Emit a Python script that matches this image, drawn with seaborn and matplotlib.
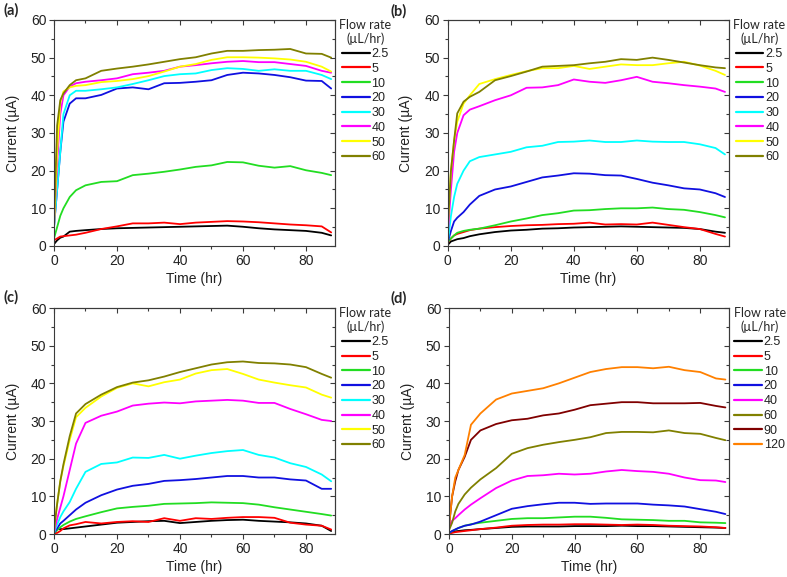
import matplotlib
matplotlib.use("Agg")
import matplotlib.pyplot as plt
import numpy as np
import pandas as pd
import seaborn as sns
from matplotlib.ticker import MultipleLocator

sns.set_style("ticks")
plt.rcParams['font.family'] = ['Liberation Sans', 'DejaVu Sans']

# time grid (hr) shared by every trace
time_hr = [0, 1, 2, 3, 5, 7, 10, 15, 20, 25, 30, 35, 40, 45, 50, 55, 60, 65, 70, 75, 80, 85, 88]

# (a)
a_flows = ["2.5", "5", "10", "20", "30", "40", "50", "60"]
a_2p5 = [0.5, 1.5, 2.2, 2.5, 3.8, 4.0, 4.2, 4.5, 4.7, 4.8, 4.9, 5.0, 5.1, 5.2, 5.3, 5.4, 5.1, 4.7, 4.4, 4.2, 4.0, 3.5, 2.8]
a_5 = [1.5, 2.0, 2.5, 2.6, 2.8, 3.0, 3.5, 4.5, 5.2, 6.0, 6.0, 6.2, 5.8, 6.2, 6.4, 6.6, 6.5, 6.3, 6.0, 5.7, 5.5, 5.2, 3.6]
a_10 = [2, 5, 8, 10, 13, 14.8, 16.1, 17, 17.2, 18.8, 19.2, 19.7, 20.3, 21, 21.4, 22.3, 22.2, 21.3, 20.8, 21.2, 20.1, 19.4, 18.8]
a_20 = [5, 15, 25, 33, 37.8, 39.2, 39.2, 40.1, 41.8, 42.1, 41.6, 43.2, 43.3, 43.6, 44, 45.4, 46, 45.8, 45.4, 44.8, 43.9, 43.8, 41.8]
a_30 = [5, 15, 25, 35, 40, 41.2, 41.2, 41.6, 42.1, 43, 44, 45.1, 45.6, 45.8, 46.7, 47.2, 47, 46.5, 46.9, 46.5, 46.5, 45.4, 44.3]
a_40 = [5, 22, 35, 40, 42.3, 43.2, 43.6, 44, 44.5, 45.6, 46, 46.5, 47.6, 48, 48.5, 48.9, 49.1, 48.8, 48.8, 48.3, 47.8, 46.5, 46]
a_50 = [5, 25, 38, 41, 42.1, 42.5, 42.7, 43.5, 43.8, 44.3, 45.1, 46.3, 47.6, 48.3, 49.4, 50.1, 50.1, 50, 49.8, 49.5, 48.9, 47.6, 46.3]
a_60 = [6, 32, 38.7, 40.5, 42.7, 44, 44.5, 46.5, 47.1, 47.6, 48.2, 48.9, 49.6, 50.1, 51.1, 51.8, 51.8, 52, 52.1, 52.3, 51.1, 51, 50]

# (b)
b_flows = ["2.5", "5", "10", "20", "30", "40", "50", "60"]
b_2p5 = [0.3, 1.2, 1.5, 1.8, 2.1, 2.6, 3.1, 3.7, 4.1, 4.3, 4.6, 4.7, 4.9, 5.0, 5.1, 5.2, 5.1, 5.0, 4.9, 4.8, 4.5, 3.8, 3.5]
b_5 = [0.8, 2.0, 2.8, 3.2, 3.7, 4.2, 4.6, 5.0, 5.3, 5.5, 5.6, 5.8, 5.9, 6.2, 5.7, 5.8, 5.7, 6.2, 5.6, 5.0, 4.5, 3.2, 2.5]
b_10 = [1, 2, 2.8, 3.5, 4, 4.3, 4.6, 5.5, 6.5, 7.3, 8.2, 8.7, 9.4, 9.5, 9.8, 10, 10, 10.2, 9.8, 9.6, 9, 8.2, 7.6]
b_20 = [1, 4, 6.5, 7.5, 9, 11, 13.3, 15, 15.8, 17, 18.2, 18.7, 19.3, 19.2, 18.8, 18.7, 17.8, 16.8, 16.1, 15.3, 15, 14, 13]
b_30 = [1, 8, 13, 16.5, 20, 22.5, 23.6, 24.3, 25, 26.2, 26.6, 27.6, 27.7, 28, 27.6, 27.6, 28, 27.7, 27.6, 27.6, 27, 26, 24.3]
b_40 = [3, 15, 25, 30, 34.7, 36.2, 37.1, 38.7, 40, 42, 42.1, 42.7, 44.2, 43.6, 43.3, 44, 44.9, 43.6, 43.2, 42.7, 42.3, 41.8, 40.9]
b_50 = [5, 20, 28, 33, 37.8, 40, 43, 44.3, 45.4, 46.4, 47.2, 47.2, 47.8, 47, 47.6, 48.2, 48, 48, 48.5, 48.9, 47.9, 46.5, 45.4]
b_60 = [5, 20, 28, 35.2, 38.3, 39.6, 40.9, 44, 45.1, 46.3, 47.6, 47.8, 48, 48.5, 48.9, 49.6, 49.4, 50, 49.4, 48.7, 48, 47.4, 47.2]

# (c)
c_flows = ["2.5", "5", "10", "20", "30", "40", "50", "60"]
c_2p5 = [1.5, 1.4, 1.3, 1.3, 1.5, 1.7, 2.0, 2.5, 3.0, 3.2, 3.4, 3.5, 2.9, 3.2, 3.5, 3.7, 3.8, 3.5, 3.3, 3.1, 2.8, 2.2, 0.8]
c_5 = [0.2, 0.3, 0.8, 1.5, 2.3, 2.6, 3.2, 2.8, 3.2, 3.4, 3.2, 4.2, 3.5, 4.2, 4.0, 4.3, 4.5, 4.5, 4.3, 3.0, 2.5, 2.2, 1.2]
c_10 = [0.3, 1.0, 1.8, 2.4, 3.3, 4.0, 4.7, 5.8, 6.8, 7.2, 7.5, 8.0, 8.1, 8.2, 8.4, 8.3, 8.2, 7.8, 7.1, 6.5, 5.9, 5.3, 4.9]
c_20 = [0.3, 1.5, 2.8, 3.5, 5, 6.5, 8.3, 10.3, 11.8, 12.8, 13.3, 14.1, 14.3, 14.6, 15, 15.4, 15.4, 15, 15, 14.5, 14.2, 12, 12]
c_30 = [0.3, 2.5, 4.5, 6, 8.5, 12, 16.5, 18.6, 19, 20.3, 20.2, 21, 20, 20.8, 21.5, 22, 22.3, 21, 20.3, 18.8, 17.8, 15.8, 14]
c_40 = [0.5, 4, 7, 10, 17, 24, 29.5, 31.4, 32.5, 34.1, 34.6, 34.9, 34.7, 35.2, 35.4, 35.6, 35.4, 34.8, 34.8, 33.2, 31.8, 30.3, 30]
c_50 = [1, 8, 14, 18, 25, 31, 33.5, 36.5, 38.8, 40, 39.2, 40.3, 41, 42.6, 43.5, 43.8, 42.5, 41, 40.2, 39.5, 38.9, 37, 36.2]
c_60 = [1, 8, 14, 18.5, 26, 32, 34.5, 37, 39, 40.2, 40.8, 41.8, 43, 44, 45, 45.6, 45.8, 45.4, 45.3, 45, 44.3, 42.5, 41.5]

# (d)
d_flows = ["2.5", "5", "10", "20", "40", "60", "90", "120"]
d_2p5 = [0.1, 0.5, 0.7, 0.8, 1.0, 1.1, 1.3, 1.6, 1.9, 2.0, 2.0, 2.0, 2.1, 2.1, 2.1, 2.2, 2.1, 2.1, 2.0, 1.9, 1.8, 1.7, 1.6]
d_5 = [0.1, 0.3, 0.5, 0.6, 0.8, 1.0, 1.3, 1.7, 2.2, 2.4, 2.5, 2.5, 2.6, 2.6, 2.5, 2.4, 2.5, 2.4, 2.2, 2.1, 2.0, 1.8, 1.6]
d_10 = [0.2, 0.8, 1.2, 1.6, 2.2, 2.6, 3.0, 3.5, 4.0, 4.2, 4.2, 4.4, 4.6, 4.6, 4.3, 3.9, 3.8, 3.7, 3.5, 3.5, 3.1, 3.0, 2.9]
d_20 = [0.3, 0.8, 1.2, 1.6, 2.2, 2.5, 3.3, 5.0, 6.7, 7.4, 7.9, 8.3, 8.3, 8.0, 8.1, 8.1, 8.1, 7.8, 7.6, 7.3, 6.6, 5.9, 5.3]
d_40 = [2, 3.5, 4.2, 5, 6.5, 7.8, 9.5, 12.2, 14.2, 15.4, 15.6, 16, 15.8, 16, 16.6, 17, 16.7, 16.5, 16, 15, 14.3, 14.2, 13.8]
d_60 = [1, 3, 6, 8, 10.5, 12.3, 14.5, 17.5, 21.3, 22.8, 23.7, 24.4, 25, 25.7, 26.8, 27.1, 27.1, 27, 27.5, 26.8, 26.6, 25.5, 24.9]
d_90 = [2, 10, 14, 17, 20.5, 25, 27.5, 29.2, 30.2, 30.6, 31.5, 32, 33, 34.2, 34.6, 35, 35, 34.7, 34.7, 34.7, 34.8, 34, 33.6]
d_120 = [2, 10, 15, 17, 21, 29, 32, 35.7, 37.3, 38, 38.7, 40, 41.5, 43, 43.8, 44.3, 44.3, 44, 44.4, 43.5, 43, 41.3, 41]

colors = {"2.5": "#000000", "5": "#ff0000", "10": "#22dd22", "20": "#1010e0",
          "30": "#00ffff", "40": "#ff00ff", "50": "#ffff00", "60": "#808000",
          "90": "#800000", "120": "#ff8000"}

panels = [
    ("(a)", a_flows, [a_2p5, a_5, a_10, a_20, a_30, a_40, a_50, a_60]),
    ("(b)", b_flows, [b_2p5, b_5, b_10, b_20, b_30, b_40, b_50, b_60]),
    ("(c)", c_flows, [c_2p5, c_5, c_10, c_20, c_30, c_40, c_50, c_60]),
    ("(d)", d_flows, [d_2p5, d_5, d_10, d_20, d_40, d_60, d_90, d_120]),
]

positions = [[0.0686, 0.5737, 0.357, 0.3917],
             [0.569, 0.5737, 0.357, 0.3917],
             [0.0686, 0.0745, 0.357, 0.3917],
             [0.5705, 0.0745, 0.356, 0.3917]]
tag_xy = [(0.004, 0.995), (0.496, 0.993), (0.004, 0.497), (0.496, 0.495)]

fig = plt.figure(figsize=(7.87, 5.77), dpi=100)
edge = "#3a3a3a"

for (tag, flows, series), pos, txy in zip(panels, positions, tag_xy):
    ax = fig.add_axes(pos)
    rows = []
    for f, vals in zip(flows, series):
        for t, v in zip(time_hr, vals):
            rows.append({"Time": t, "Current": v, "Flow": f})
    df = pd.DataFrame(rows)
    sns.lineplot(data=df, x="Time", y="Current", hue="Flow", hue_order=flows,
                 palette=[colors[f] for f in flows], linewidth=1.3, ax=ax)

    ax.set_xlim(0, 89.2)
    ax.set_ylim(0, 60)
    ax.xaxis.set_major_locator(MultipleLocator(20))
    ax.xaxis.set_minor_locator(MultipleLocator(10))
    ax.yaxis.set_major_locator(MultipleLocator(10))
    ax.yaxis.set_minor_locator(MultipleLocator(5))
    ax.tick_params(which="major", direction="out", length=3.5, width=0.8,
                   color=edge, labelsize=10, labelcolor="#222222", pad=2)
    ax.tick_params(which="minor", direction="out", length=2, width=0.8, color=edge)
    for s in ax.spines.values():
        s.set_visible(True)
        s.set_color(edge)
        s.set_linewidth(0.8)

    # mirrored ticks pointing inward on top and right
    top = ax.secondary_xaxis("top")
    top.xaxis.set_major_locator(MultipleLocator(20))
    top.xaxis.set_minor_locator(MultipleLocator(10))
    top.tick_params(which="both", direction="in", labeltop=False, color=edge, width=0.8)
    top.tick_params(which="major", length=3.5)
    top.tick_params(which="minor", length=2)
    top.spines["top"].set_color(edge)
    top.spines["top"].set_linewidth(0.8)
    right = ax.secondary_yaxis("right")
    right.yaxis.set_major_locator(MultipleLocator(10))
    right.yaxis.set_minor_locator(MultipleLocator(5))
    right.tick_params(which="both", direction="in", labelright=False, color=edge, width=0.8)
    right.tick_params(which="major", length=3.5)
    right.tick_params(which="minor", length=2)
    right.spines["right"].set_color(edge)
    right.spines["right"].set_linewidth(0.8)

    ax.set_xlabel("Time (hr)", fontsize=10, color="#222222", labelpad=3)
    ax.set_ylabel("Current (\u00b5A)", fontsize=10, color="#222222", labelpad=8)

    leg = ax.legend(loc="upper left", bbox_to_anchor=(1.0, 1.025), frameon=False,
                    fontsize=9, handlelength=2.2, handletextpad=0.15,
                    labelspacing=0.22, borderaxespad=0.0, borderpad=0.35)
    leg.set_title("Flow rate\n(\u00b5L/hr)", prop={"family": ["Lato", "DejaVu Sans"], "size": 9})
    leg.get_title().set_multialignment("center")
    leg._legend_box.align = "center"
    for line in leg.get_lines():
        line.set_linewidth(1.6)
    for txt in leg.get_texts():
        txt.set_color("#222222")

    fig.text(txy[0], txy[1], tag, fontsize=10.5, fontweight="bold",
             family=["Lato", "DejaVu Sans"], va="top", ha="left")

fig.savefig("out.png", dpi=100)
